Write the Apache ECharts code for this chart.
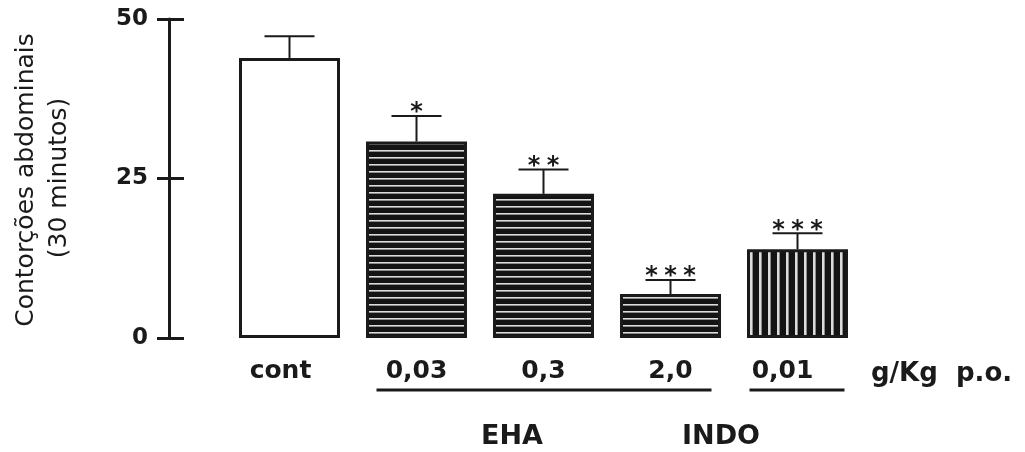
<!DOCTYPE html>
<html><head><meta charset="utf-8">
<script src="https://cdn.jsdelivr.net/npm/echarts@6/dist/echarts.min.js"></script>
<style>html,body{margin:0;padding:0;background:#fff}#c{width:1025px;height:452px}</style>
</head><body><div id="c"></div>
<script>
// ---- data ----
const categories = ['cont', '0,03', '0,3', '2,0', '0,01'];
const means = [43.9, 30.8, 22.6, 6.9, 13.9];
const errors = [3.4, 4.0, 3.8, 2.2, 2.5];
const starCounts = [0, 1, 2, 3, 3];
const fills = ['open', 'hline', 'hline', 'hline', 'vline'];
const yMin = 0, yMax = 50, yStep = 25;
const yTitleLines = ['Contorções abdominais', '(30 minutos)'];
const unitLabel = 'g/Kg  p.o.';
const groupNames = ['EHA', 'INDO'];

// ---- patterns ----
function hatch(kind) {
  const c = document.createElement('canvas');
  if (kind === 'hline') { c.width = 8; c.height = 7; } else { c.width = 9; c.height = 8; }
  const g = c.getContext('2d');
  g.fillStyle = '#141414'; g.fillRect(0, 0, c.width, c.height);
  g.fillStyle = '#dcdcdc';
  if (kind === 'hline') g.fillRect(0, 3, c.width, 1.6);
  else g.fillRect(3, 0, 2.6, c.height);
  return c;
}
const patH = hatch('hline'), patV = hatch('vline');
function fillFor(k) {
  if (k === 'open') return '#ffffff';
  return { image: k === 'hline' ? patH : patV, repeat: 'repeat' };
}

const chart = echarts.init(document.getElementById('c'), null, { renderer: 'canvas' });
const INK = '#1a1a1a';
const FONT = '"DejaVu Sans", "Liberation Sans", sans-serif';

const barData = means.map((v, i) => ({
  value: v,
  itemStyle: { color: fillFor(fills[i]), borderColor: INK, borderWidth: 3 }
}));
const errData = means.map((v, i) => [i, v, errors[i], starCounts[i]]);

const catData = categories.map((c, i) => {
  const o = { value: c };
  if (i === 0) o.textStyle = { padding: [0, 18, 0, 0] };
  if (i === 4) o.textStyle = { padding: [0, 30, 0, 0] };
  return o;
});

const yCommon = {
  type: 'value', min: yMin, max: yMax, interval: yStep, position: 'left', offset: 57,
  splitLine: { show: false }
};

chart.setOption({
  animation: false,
  backgroundColor: '#ffffff',
  grid: { left: 226, right: 164, top: 19, bottom: 114, containLabel: false },
  xAxis: {
    type: 'category', data: catData,
    axisLine: { show: false }, axisTick: { show: false },
    axisLabel: { color: INK, fontFamily: FONT, fontWeight: 'bold', fontSize: 25, margin: 21 }
  },
  yAxis: [
    Object.assign({}, yCommon, {
      axisLine: { show: true, lineStyle: { color: INK, width: 3 } },
      axisTick: { show: true, inside: false, length: 12, lineStyle: { color: INK, width: 3 } },
      axisLabel: { color: INK, fontFamily: FONT, fontWeight: 'bold', fontSize: 23, margin: 21 }
    }),
    Object.assign({}, yCommon, {
      axisLine: { show: false },
      axisTick: { show: true, inside: true, length: 15, lineStyle: { color: INK, width: 3 } },
      axisLabel: { show: false }
    })
  ],
  series: [
    {
      type: 'bar', data: barData, barWidth: 101, yAxisIndex: 0, z: 2
    },
    {
      type: 'custom', data: errData, yAxisIndex: 0, z: 3,
      renderItem: function (params, api) {
        const x = api.value(0), m = api.value(1), e = api.value(2), n = api.value(3);
        const p0 = api.coord([x, m]);
        const p1 = api.coord([x, m + e]);
        const half = 25;
        const ch = [
          { type: 'line', shape: { x1: p0[0], y1: p0[1], x2: p1[0], y2: p1[1] }, style: { stroke: INK, lineWidth: 2 } },
          { type: 'line', shape: { x1: p1[0] - half, y1: p1[1], x2: p1[0] + half, y2: p1[1] }, style: { stroke: INK, lineWidth: 2 } }
        ];
        const sp = 19;
        for (let k = 0; k < n; k++) {
          const sx = p1[0] + (k - (n - 1) / 2) * sp;
          ch.push({
            type: 'text', x: sx, y: p1[1] - 3,
            style: { text: '*', fill: INK, fontFamily: FONT, fontWeight: 'bold', fontSize: 24, align: 'center', verticalAlign: 'middle' }
          });
        }
        return { type: 'group', children: ch };
      }
    }
  ]
});

// annotations: axis title, unit, group underlines and names
function cx(i) { return chart.convertToPixel({ xAxisIndex: 0 }, categories[i]); }
const gLineY = 390;
chart.setOption({
  graphic: [
    { type: 'text', x: 26, y: 180, rotation: Math.PI / 2,
      style: { text: yTitleLines[0], fill: INK, fontFamily: FONT, fontSize: 25, align: 'center', verticalAlign: 'middle' } },
    { type: 'text', x: 59, y: 178, rotation: Math.PI / 2,
      style: { text: yTitleLines[1], fill: INK, fontFamily: FONT, fontSize: 25, align: 'center', verticalAlign: 'middle' } },
    { type: 'text', x: 871, y: 374,
      style: { text: unitLabel, fill: INK, fontFamily: FONT, fontWeight: 'bold', fontSize: 26, align: 'left', verticalAlign: 'middle' } },
    { type: 'line', shape: { x1: cx(1) - 40, y1: gLineY, x2: cx(3) + 41, y2: gLineY }, style: { stroke: INK, lineWidth: 3 } },
    { type: 'line', shape: { x1: cx(4) - 48, y1: gLineY, x2: cx(4) + 47, y2: gLineY }, style: { stroke: INK, lineWidth: 3 } },
    { type: 'text', x: 512, y: 437,
      style: { text: groupNames[0], fill: INK, fontFamily: FONT, fontWeight: 'bold', fontSize: 27, align: 'center', verticalAlign: 'middle' } },
    { type: 'text', x: 721, y: 437,
      style: { text: groupNames[1], fill: INK, fontFamily: FONT, fontWeight: 'bold', fontSize: 27, align: 'center', verticalAlign: 'middle' } }
  ]
});
</script>
</body></html>
